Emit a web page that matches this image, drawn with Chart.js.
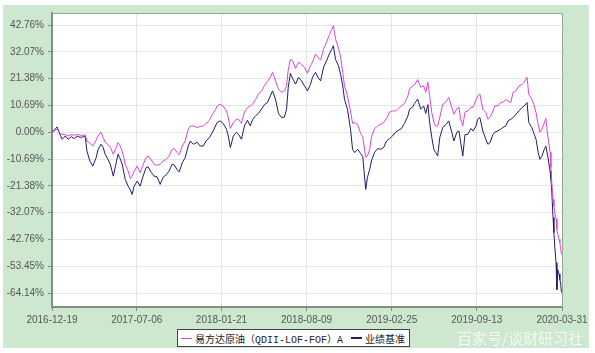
<!DOCTYPE html>
<html>
<head>
<meta charset="utf-8">
<script src="https://cdn.jsdelivr.net/npm/chart.js@4"></script>
<style>
body { margin: 0; background: #fff; }
#wrap { position: relative; width: 595px; height: 353px; }
#legend {
  position: absolute; left: 177px; top: 329px; height: 16px; padding: 0 4px 0 2px;
  border: 1px solid #444; background: #fff; color: #222;
  font: 10px "Liberation Mono", "Noto Sans CJK SC", monospace;
  display: flex; align-items: center; white-space: nowrap;
}
#legend .mk { display: inline-block; width: 11px; margin: 0 3px 0 1px; }
#mark {
  position: absolute; left: 457px; top: 327px;
  font: 15px "Noto Sans CJK SC", sans-serif; color: rgba(255, 255, 255, 0.75);
  white-space: nowrap;
}
</style>
</head>
<body>
<div id="wrap">
  <canvas id="c" width="595" height="353"></canvas>
  <div id="legend"><span class="mk" style="height:1px;background:#dd44dd"></span>易方达原油（QDII-LOF-FOF）A<span class="mk" style="height:2px;background:#1f1f66;margin-left:8px"></span>业绩基准</div>
  <div id="mark">百家号/谈财研习社</div>
</div>
<script>
// days since 2016-12-19
var days = [
  0, 5, 12, 19, 24, 31, 38, 45, 52, 59,
  66, 73, 78, 82, 89, 96, 104, 108, 115, 120,
  125, 132, 137, 144, 151, 155, 160, 165, 172, 179,
  184, 188, 193, 200, 207, 214, 221, 226, 233, 240,
  247, 254, 261, 268, 275, 282, 287, 294, 299, 306,
  313, 320, 325, 332, 341, 348, 355, 362, 370, 377,
  384, 388, 395, 402, 410, 414, 419, 426, 433, 438,
  445, 452, 459, 466, 471, 478, 485, 492, 499, 506,
  513, 518, 525, 532, 539, 546, 551, 555, 560, 565,
  572, 579, 586, 593, 600, 607, 612, 619, 626, 631,
  638, 645, 652, 657, 661, 666, 673, 678, 683, 687,
  694, 701, 706, 711, 718, 725, 730, 737, 741, 746,
  751, 758, 765, 772, 779, 786, 793, 800, 807, 814,
  821, 828, 836, 840, 847, 852, 859, 866, 873, 878,
  883, 887, 892, 897, 901, 906, 911, 918, 925, 932,
  939, 944, 951, 956, 960, 965, 970, 977, 984, 989,
  996, 1000, 1005, 1012, 1019, 1024, 1029, 1036, 1040, 1047,
  1054, 1059, 1066, 1071, 1078, 1083, 1090, 1097, 1104, 1109,
  1116, 1120, 1127, 1132, 1137, 1142, 1146, 1151, 1156, 1160,
  1165, 1170, 1172, 1174, 1177, 1179, 1181, 1184, 1186, 1188,
  1191, 1193, 1195, 1196, 1198
];
// 易方达原油（QDII-LOF-FOF）A, %
var fundPct = [
  0, 0.5, 1.2, -0.5, -0.8, -1.0, -1.5, -1.0, -1.2, -0.9,
  -1.1, -1.3, -1.0, -3.5, -4.4, -5.5, -3.0, -1.5, 0, -2.0,
  -4.0, -5.0, -6.0, -8.8, -6.0, -4.1, -5.5, -7.5, -12.8, -15.5,
  -18.5, -17.5, -15.5, -13.5, -16.1, -13.0, -10.0, -9.5, -11.0, -12.8,
  -13.2, -12.8, -11.5, -10.8, -9.5, -6.8, -6.5, -8.1, -9.0, -5.5,
  -3.5, 1.2, 2.5, 2.5, 1.9, 2.2, 2.5, 3.5, 4.8, 7.2,
  9.0, 10.5, 11.2, 10.5, 8.5, 5.9, 1.5, 3.9, 5.2, 5.2,
  3.5, 8.0, 9.8, 10.5, 11.0, 13.0, 15.2, 16.5, 18.5, 20.2,
  22.0, 23.9, 20.5, 17.2, 15.9, 16.5, 18.5, 25.0, 29.0, 28.5,
  25.5, 27.9, 27.0, 25.9, 23.5, 26.5, 28.0, 31.2, 29.5, 28.8,
  33.2, 36.0, 39.0, 41.0, 42.5, 37.2, 33.5, 30.0, 23.9, 18.5,
  14.5, 8.5, 3.5, 3.9, 3.0, -0.5, -2.0, -10.0, -9.5, -7.0,
  -1.5, 1.5, 2.5, 3.2, 3.9, 5.5, 8.0, 8.5, 8.5, 9.5,
  10.5, 11.5, 14.5, 17.2, 18.5, 19.0, 21.0, 18.0, 18.5, 16.0,
  20.0, 14.5, 8.0, 3.9, 2.5, 2.5, 6.0, 11.2, 12.0, 13.9,
  10.0, 7.2, 9.5, 9.9, 5.2, 2.5, 8.0, 8.5, 10.0, 9.9,
  13.0, 14.5, 15.2, 9.2, 7.9, 5.2, 6.0, 8.5, 10.5, 10.5,
  11.9, 11.9, 13.0, 12.5, 11.9, 15.9, 16.5, 18.5, 19.0, 19.9,
  21.9, 15.0, 13.2, 11.0, 7.9, 3.0, 0, 1.2, 3.5, 5.5,
  -2.0, -8.0, -14.0, -20.0, -26.8, -29.5, -32.1, -34.5, -38.8, -40.5,
  -42.8, -44.0, -46.8, -48.0, -48.8
];
// 业绩基准, %
var benchPct = [
  0, 0.8, 2.1, -1.0, -2.8, -1.5, -2.8, -1.8, -2.5, -1.6,
  -2.0, -1.9, -1.5, -7.5, -11.5, -13.5, -10.0, -7.0, -4.8, -6.0,
  -8.8, -11.0, -12.8, -17.5, -12.0, -8.8, -10.5, -12.8, -18.8, -21.5,
  -23.0, -24.8, -21.5, -19.5, -21.5, -17.5, -14.1, -13.8, -16.0, -17.5,
  -17.8, -20.8, -18.0, -17.0, -15.5, -12.8, -13.0, -15.0, -15.8, -12.1,
  -10.1, -5.5, -3.5, -4.8, -4.0, -5.5, -5.5, -3.5, -2.1, 0,
  2.5, 3.9, 4.5, 3.5, 1.2, -1.5, -6.1, -1.5, 0.0, -0.8,
  -2.8, 2.5, 4.8, 2.5, 5.0, 6.5, 7.5, 9.2, 11.0, 11.8,
  14.5, 16.5, 13.2, 7.5, 5.9, 6.0, 9.2, 18.0, 23.5, 21.5,
  19.2, 21.9, 20.5, 18.5, 16.5, 19.0, 21.9, 23.9, 21.5, 20.5,
  26.0, 28.5, 31.5, 33.0, 34.5, 29.0, 26.5, 23.0, 18.5, 13.2,
  9.2, 1.5, -6.8, -8.1, -6.8, -8.5, -9.8, -22.8, -18.0, -15.0,
  -11.0, -8.0, -6.5, -6.8, -6.1, -3.5, -2.5, -1.5, 0, 0.8,
  1.5, 3.5, 6.5, 9.2, 10.0, 11.5, 13.2, 9.2, 10.5, 7.5,
  11.0, 4.0, -2.0, -6.8, -8.0, -9.5, -2.0, 1.9, 3.0, 4.5,
  0, -3.5, 0.0, 0.5, -4.1, -9.5, -1.0, -0.8, 1.5, 0.5,
  2.5, 5.2, 5.9, 0.5, -2.8, -4.8, -4.1, -0.8, 0, 0.5,
  1.2, 1.9, 2.5, 4.5, 5.2, 5.8, 7.2, 8.5, 9.8, 10.5,
  11.8, 3.9, 1.9, -0.5, -2.8, -8.0, -10.8, -9.5, -7.0, -5.5,
  -10.0, -15.5, -18.8, -24.0, -34.0, -40.0, -45.5, -52.0, -62.8, -54.8,
  -56.5, -58.8, -60.5, -63.0, -64.1
];
var tickDays = [0, 199, 398, 598, 798, 998, 1198];
var tickLabels = ["2016-12-19", "2017-07-06", "2018-01-21", "2018-08-09", "2019-02-25", "2019-09-13", "2020-03-31"];
var yTicks = [-64.14, -53.45, -42.76, -32.07, -21.38, -10.69, 0, 10.69, 21.38, 32.07, 42.76];

function toPoints(values) {
  return days.map(function(d, i) {
    return { x: d, y: values[i] };
  });
}

var framePlugin = {
  id: "frame",
  beforeDraw: function(chart) {
    var ctx = chart.ctx;
    var a = chart.chartArea;
    ctx.save();
    ctx.fillStyle = "#fff";
    ctx.fillRect(0, 0, chart.width, chart.height);
    ctx.fillStyle = "#cde8cf";
    ctx.fillRect(3, 5, 586, 343);
    ctx.fillStyle = "#fff";
    ctx.fillRect(a.left, a.top, a.right - a.left, a.bottom - a.top);
    ctx.restore();
  },
  afterDraw: function(chart) {
    var ctx = chart.ctx;
    var a = chart.chartArea;
    ctx.save();
    ctx.strokeStyle = "#95a595";
    ctx.lineWidth = 1;
    ctx.beginPath();
    ctx.moveTo(a.left, a.top + 0.5);
    ctx.lineTo(a.right + 0.5, a.top + 0.5);
    ctx.lineTo(a.right + 0.5, a.bottom);
    ctx.stroke();
    ctx.restore();
  }
};

var tickFont = { family: "'Liberation Sans', Arial, sans-serif", size: 10 };

new Chart(document.getElementById("c").getContext("2d"), {
  type: "line",
  data: {
    datasets: [
      {
        label: "易方达原油（QDII-LOF-FOF）A",
        data: toPoints(fundPct),
        borderColor: "#dd44dd",
        borderWidth: 1,
        pointRadius: 0,
        tension: 0
      },
      {
        label: "业绩基准",
        data: toPoints(benchPct),
        borderColor: "#1f1f66",
        borderWidth: 1,
        pointRadius: 0,
        tension: 0
      }
    ]
  },
  options: {
    responsive: false,
    animation: false,
    devicePixelRatio: 1,
    layout: { padding: { top: 13, right: 33, left: 0, bottom: 0 } },
    plugins: { legend: { display: false }, tooltip: { enabled: false } },
    scales: {
      x: {
        type: "linear",
        min: 0,
        max: 1198,
        afterBuildTicks: function(scale) {
          scale.ticks = tickDays.map(function(v) { return { value: v }; });
        },
        afterFit: function(scale) { scale.height = 46; },
        grid: { color: "#e6e6e6", tickLength: 4, tickColor: "#888" },
        border: { color: "#7f8f80", width: 2 },
        ticks: {
          autoSkip: false,
          maxRotation: 0,
          padding: 3,
          color: "#555",
          font: tickFont,
          callback: function(v, i) { return tickLabels[i]; }
        }
      },
      y: {
        min: -69.7,
        max: 47.55,
        afterBuildTicks: function(scale) {
          scale.ticks = yTicks.map(function(v) { return { value: v }; });
        },
        afterFit: function(scale) { scale.width = 52; },
        grid: { color: "#e6e6e6", tickLength: 4, tickColor: "#888" },
        border: { color: "#7f8f80", width: 2 },
        ticks: {
          padding: 4,
          color: "#555",
          font: tickFont,
          callback: function(v) { return v.toFixed(2) + "%"; }
        }
      }
    }
  },
  plugins: [framePlugin]
});
</script>
</body>
</html>
